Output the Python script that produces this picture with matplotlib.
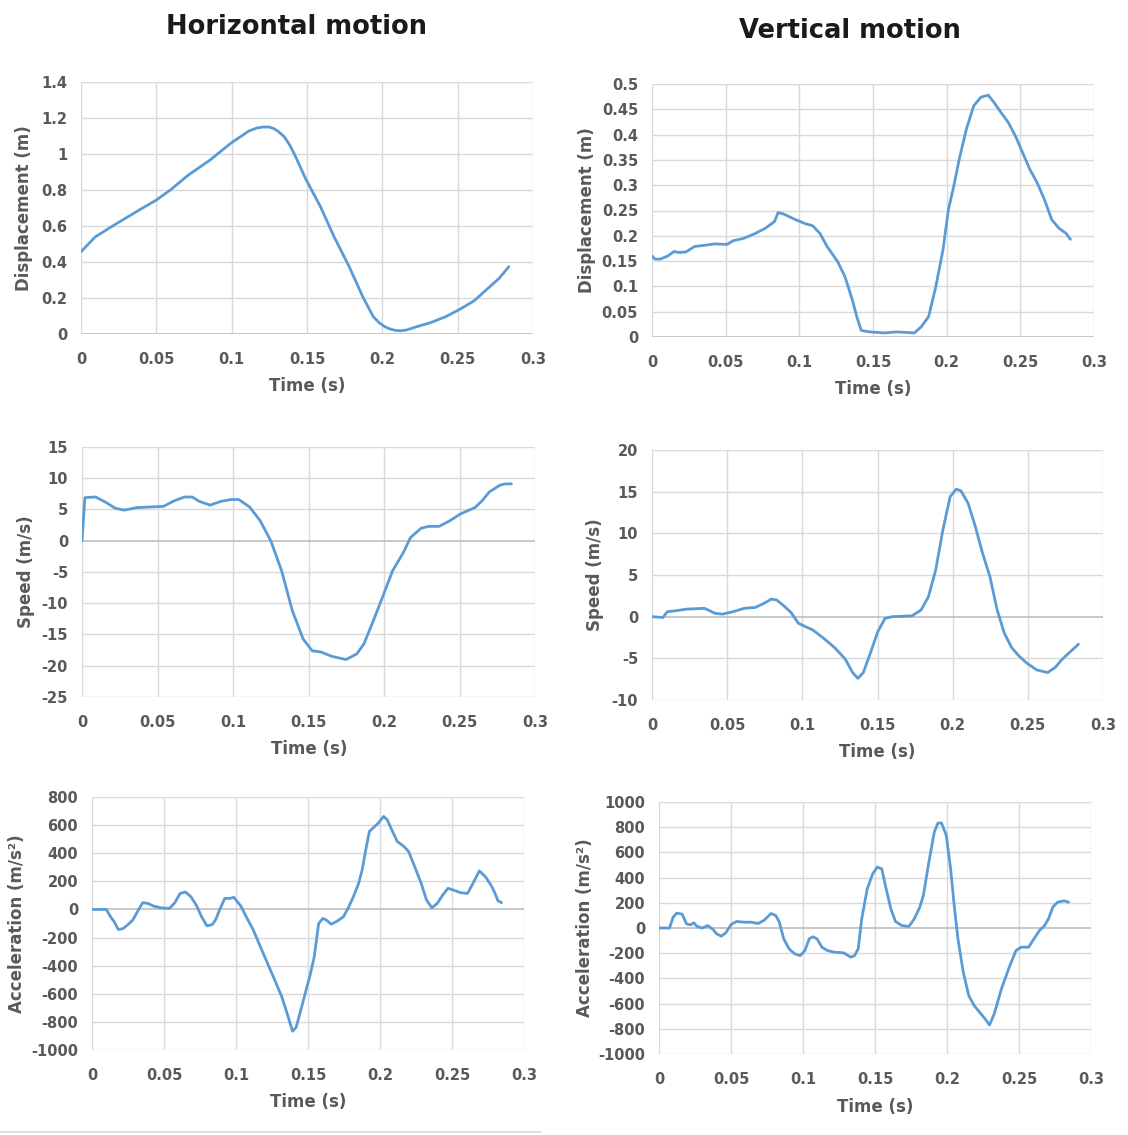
import matplotlib
matplotlib.use("Agg")
import matplotlib.pyplot as plt

plt.rcParams['font.family'] = ['DejaVu Sans']

# ---------------- data ----------------
h_disp_t = [0, 0.0095, 0.0237, 0.0403, 0.0498, 0.0593, 0.0711, 0.0854, 0.0996, 0.1115, 0.117, 0.121,
            0.125, 0.128, 0.131, 0.135, 0.1385, 0.142, 0.149, 0.159, 0.168, 0.178, 0.187, 0.194,
            0.198, 0.2016, 0.205, 0.2087, 0.212, 0.216, 0.223, 0.232, 0.242, 0.2514, 0.261, 0.270,
            0.2775, 0.284]
h_disp = [0.457, 0.54, 0.614, 0.697, 0.743, 0.80, 0.882, 0.965, 1.061, 1.128, 1.145, 1.150,
          1.150, 1.141, 1.125, 1.095, 1.05, 0.993, 0.864, 0.706, 0.54, 0.374, 0.207, 0.096,
          0.062, 0.041, 0.028, 0.020, 0.018, 0.022, 0.041, 0.063, 0.096, 0.137, 0.185, 0.253,
          0.309, 0.374]

v_disp_t = [0, 0.002, 0.0057, 0.0106, 0.015, 0.018, 0.0229, 0.029, 0.035, 0.0425, 0.051, 0.0548,
            0.0622, 0.0696, 0.077, 0.0831, 0.0856, 0.0893, 0.0966, 0.104, 0.109, 0.1139, 0.1188,
            0.126, 0.131, 0.136, 0.139, 0.142, 0.148, 0.158, 0.1655, 0.173, 0.178, 0.1827, 0.1877,
            0.1926, 0.1975, 0.2012, 0.2048, 0.2085, 0.2134, 0.2184, 0.2233, 0.2282, 0.232, 0.2368,
            0.2418, 0.2467, 0.2516, 0.2565, 0.2614, 0.2663, 0.2713, 0.2762, 0.281, 0.284]
v_disp = [0.160, 0.154, 0.154, 0.160, 0.169, 0.167, 0.168, 0.179, 0.181, 0.184, 0.183, 0.190,
          0.195, 0.204, 0.215, 0.228, 0.246, 0.243, 0.233, 0.224, 0.220, 0.205, 0.179,
          0.149, 0.119, 0.073, 0.040, 0.013, 0.010, 0.008, 0.010, 0.009, 0.008, 0.020, 0.040,
          0.099, 0.172, 0.252, 0.298, 0.351, 0.411, 0.457, 0.474, 0.478, 0.464, 0.444,
          0.424, 0.397, 0.364, 0.331, 0.305, 0.272, 0.232, 0.215, 0.205, 0.193]

h_speed_t = [0, 0.0019, 0.009, 0.0161, 0.022, 0.028, 0.0363, 0.0445, 0.054, 0.0611, 0.068, 0.073,
             0.0777, 0.0848, 0.092, 0.099, 0.1038, 0.111, 0.118, 0.125, 0.1322, 0.1393, 0.1464,
             0.1524, 0.1583, 0.1654, 0.1749, 0.182, 0.1867, 0.1926, 0.1986, 0.2057, 0.2128,
             0.2175, 0.2246, 0.2294, 0.2365, 0.2436, 0.2507, 0.2602, 0.265, 0.2697, 0.2768,
             0.2803, 0.2844]
h_speed = [0, 6.9, 7.0, 6.1, 5.2, 4.9, 5.3, 5.4, 5.5, 6.4, 7.0, 7.0,
           6.3, 5.7, 6.3, 6.6, 6.6, 5.4, 3.2, 0.0, -4.8, -11.2, -15.7,
           -17.6, -17.8, -18.5, -19.0, -18.1, -16.5, -13.0, -9.3, -4.8, -1.9,
           0.5, 2.0, 2.3, 2.3, 3.2, 4.3, 5.3, 6.4, 7.8, 8.9,
           9.1, 9.1]

v_speed_t = [0, 0.0072, 0.0103, 0.0156, 0.0228, 0.0349, 0.042, 0.0469, 0.054, 0.0613, 0.0685,
             0.0745, 0.0793, 0.0829, 0.0877, 0.0925, 0.0974, 0.1022, 0.107, 0.1142, 0.1214,
             0.1286, 0.1334, 0.137, 0.1406, 0.1454, 0.1502, 0.155, 0.1599, 0.167, 0.173, 0.179,
             0.1839, 0.1887, 0.1935, 0.1983, 0.2024, 0.2055, 0.2103, 0.2151, 0.2199, 0.2248,
             0.2296, 0.2344, 0.2392, 0.244, 0.2488, 0.256, 0.2632, 0.2681, 0.2729, 0.2777, 0.2837]
v_speed = [0, -0.1, 0.6, 0.7, 0.9, 1.0, 0.4, 0.3, 0.6, 1.0, 1.1,
           1.6, 2.1, 2.0, 1.3, 0.5, -0.8, -1.2, -1.6, -2.6, -3.7,
           -5.1, -6.7, -7.4, -6.7, -4.3, -1.8, -0.2, 0.0, 0.05, 0.1, 0.8,
           2.4, 5.6, 10.4, 14.4, 15.3, 15.1, 13.6, 10.8, 7.6, 4.8,
           0.8, -2.0, -3.7, -4.7, -5.5, -6.4, -6.7, -6.1, -5.1, -4.3, -3.3]

h_acc_t = [0, 0.0099, 0.0129, 0.0154, 0.0183, 0.0216, 0.0253, 0.0283, 0.0315, 0.0352, 0.0389,
           0.0426, 0.0476, 0.0538, 0.0575, 0.0612, 0.065, 0.0687, 0.0724, 0.0761, 0.0798,
           0.0836, 0.086, 0.0885, 0.0922, 0.096, 0.0985, 0.1009, 0.1034, 0.1071, 0.1121,
           0.117, 0.122, 0.127, 0.1319, 0.1356, 0.1393, 0.1418, 0.1443, 0.148, 0.1517, 0.1543,
           0.1574, 0.1603, 0.1629, 0.1661, 0.1703, 0.1746, 0.1778, 0.1815, 0.1852, 0.1876,
           0.1901, 0.1926, 0.1963, 0.1988, 0.2025, 0.205, 0.2087, 0.212, 0.2162, 0.2199,
           0.2236, 0.2286, 0.2323, 0.236, 0.2398, 0.2435, 0.2472, 0.251, 0.256, 0.2608,
           0.2646, 0.2690, 0.2732, 0.277, 0.2794, 0.2819, 0.2844]
h_acc = [0, 0, -52, -88, -143, -136, -105, -76, -17, 48, 43,
         24, 12, 7, 48, 114, 124, 90, 31, -52, -117,
         -107, -71, -5, 79, 79, 86, 55, 24, -52, -148,
         -267, -386, -505, -624, -743, -867, -838, -743, -600, -457, -338,
         -100, -64, -76, -105, -83, -52, 7, 90, 186, 281,
         424, 555, 590, 614, 662, 638, 555, 483, 452, 412,
         317, 186, 67, 12, 43, 102, 150, 138, 119, 114,
         186, 274, 233, 174, 126, 62, 48]

v_acc_t = [0, 0.0073, 0.0098, 0.0123, 0.0161, 0.0191, 0.0217, 0.0242, 0.0262, 0.03, 0.0338,
           0.0375, 0.04, 0.0433, 0.0464, 0.0501, 0.0539, 0.059, 0.064, 0.069, 0.0728, 0.0778,
           0.0811, 0.0836, 0.0866, 0.0904, 0.0942, 0.098, 0.1013, 0.1043, 0.1068, 0.1098,
           0.1131, 0.1169, 0.1219, 0.1282, 0.1332, 0.1358, 0.1383, 0.1408, 0.1446, 0.1484,
           0.1516, 0.1547, 0.1572, 0.161, 0.1642, 0.1685, 0.1735, 0.1773, 0.1811, 0.1836,
           0.1874, 0.1912, 0.1937, 0.1962, 0.1995, 0.2025, 0.205, 0.2076, 0.2113, 0.2151,
           0.2189, 0.2227, 0.2265, 0.2295, 0.2328, 0.2378, 0.2428, 0.2479, 0.2516, 0.2567,
           0.2604, 0.2642, 0.2675, 0.2705, 0.2735, 0.2768, 0.2814, 0.2844]
v_acc = [0, 0, 86, 118, 110, 33, 25, 41, 15, -1, 20,
         -12, -46, -65, -38, 28, 52, 46, 46, 36, 60, 115,
         99, 46, -86, -166, -205, -219, -179, -86, -70, -86,
         -152, -179, -192, -197, -232, -219, -166, 73, 311, 430,
         483, 470, 338, 152, 52, 20, 12, 73, 166, 258,
         523, 762, 833, 833, 735, 470, 179, -86, -351, -536,
         -616, -669, -722, -770, -682, -483, -324, -179, -152, -152,
         -86, -20, 15, 73, 166, 205, 216, 205]

x_ticks = [0, 0.05, 0.1, 0.15, 0.2, 0.25, 0.3]
x_ticklabels = ['0', '0.05', '0.1', '0.15', '0.2', '0.25', '0.3']

disp_h_ticks = [0, 0.2, 0.4, 0.6, 0.8, 1, 1.2, 1.4]
disp_v_ticks = [0, 0.05, 0.1, 0.15, 0.2, 0.25, 0.3, 0.35, 0.4, 0.45, 0.5]
speed_h_ticks = [-25, -20, -15, -10, -5, 0, 5, 10, 15]
speed_v_ticks = [-10, -5, 0, 5, 10, 15, 20]
acc_h_ticks = [-1000, -800, -600, -400, -200, 0, 200, 400, 600, 800]
acc_v_ticks = [-1000, -800, -600, -400, -200, 0, 200, 400, 600, 800, 1000]

# ---------------- styling ----------------
W, H = 1128, 1135
LINE = '#5B9BD5'
GRID = '#D9D9D9'
AXIS0 = '#BFBFBF'
TXT = '#595959'

fig = plt.figure(figsize=(W / 100, H / 100), dpi=100)
fig.patch.set_facecolor('white')


def px_axes(l, r, t, b):
    return fig.add_axes([l / W, 1 - b / H, (r - l) / W, (b - t) / H])


axes_specs = [
    ((81, 533, 82, 334), h_disp_t, h_disp, disp_h_ticks, 'Displacement (m)', 24, 386, 307),
    ((652, 1094, 84, 337), v_disp_t, v_disp, disp_v_ticks, 'Displacement (m)', 587, 389, 873),
    ((82, 535, 447, 697), h_speed_t, h_speed, speed_h_ticks, 'Speed (m/s)', 26, 749, 309),
    ((652, 1103, 450, 700), v_speed_t, v_speed, speed_v_ticks, 'Speed (m/s)', 595, 752, 877),
    ((92, 524, 797, 1050), h_acc_t, h_acc, acc_h_ticks, 'Acceleration (m/s²)', 17, 1102, 308),
    ((659, 1091, 802, 1054), v_acc_t, v_acc, acc_v_ticks, 'Acceleration (m/s²)', 585, 1107, 875),
]

for rect, t, y, yt, yl, ylx, xly, xlcx in axes_specs:
    ax = px_axes(*rect)
    ax.plot(t, y, color=LINE, lw=2.0, solid_joinstyle='round', solid_capstyle='round', zorder=3)
    ax.set_xlim(0, 0.3)
    ax.set_ylim(yt[0], yt[-1])
    ax.set_xticks(x_ticks)
    ax.set_xticklabels(x_ticklabels)
    ax.set_yticks(yt)
    ax.set_yticklabels([('%g' % v) for v in yt])
    for s in ax.spines.values():
        s.set_visible(False)
    for v in yt:
        if v != 0:
            ax.axhline(v, color=GRID, lw=1.0, zorder=1)
    for v in x_ticks:
        ax.axvline(v, color=GRID, lw=1.0, zorder=1)
    ax.axhline(0, color=AXIS0, lw=1.2, zorder=2)
    ax.tick_params(axis='x', length=0, labelsize=10.5, labelcolor=TXT, pad=13)
    ax.tick_params(axis='y', length=0, labelsize=10.5, labelcolor=TXT, pad=10)
    for lab in ax.get_xticklabels() + ax.get_yticklabels():
        lab.set_fontweight('bold')
    fig.text(ylx / W, 1 - ((rect[2] + rect[3]) / 2) / H, yl, rotation=90,
             ha='center', va='center', fontsize=12, color=TXT, fontweight='bold')
    fig.text(xlcx / W, 1 - xly / H, 'Time (s)', ha='center', va='center',
             fontsize=12, color=TXT, fontweight='bold')

fig.text(296 / W, 1 - 27 / H, 'Horizontal motion', ha='center', va='center',
         fontsize=18.5, fontweight='bold', color='#1a1a1a')
fig.text(850 / W, 1 - 31 / H, 'Vertical motion', ha='center', va='center',
         fontsize=18.5, fontweight='bold', color='#1a1a1a')

fig.add_artist(plt.Line2D([0, 540 / W], [1 - 1132 / H, 1 - 1132 / H],
                          color='#E0E0E0', lw=1.5))

fig.savefig('out.png', dpi=100)
